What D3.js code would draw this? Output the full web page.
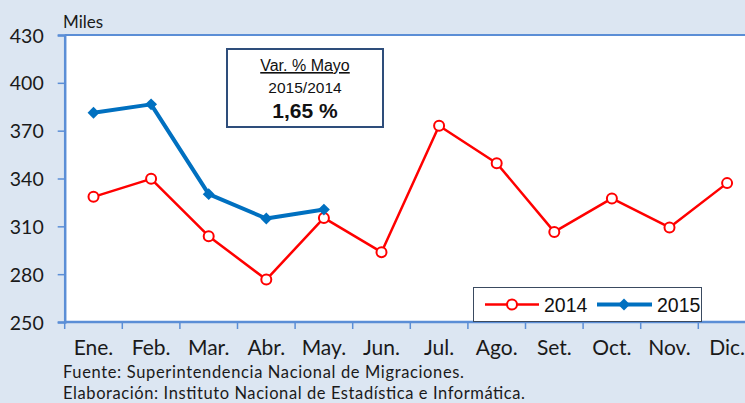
<!DOCTYPE html>
<html>
<head>
<meta charset="utf-8">
<script src="https://cdn.jsdelivr.net/npm/d3@7"></script>
<style>
  html, body { margin: 0; padding: 0; background: #DCE6F2; }
  svg { display: block; }
</style>
</head>
<body>
<svg id="chart" width="745" height="403"></svg>
<script>
// Monthly arrivals (thousands), 2014 vs 2015
const months = ["Ene.", "Feb.", "Mar.", "Abr.", "May.", "Jun.", "Jul.", "Ago.", "Set.", "Oct.", "Nov.", "Dic."];
const values2014 = [328.5, 339.8, 303.8, 276.6, 315.3, 293.8, 373.1, 349.6, 306.5, 327.5, 309.3, 337.1];
const values2015 = [381.2, 386.5, 330.2, 314.9, 320.5];
const yTicks = [250, 280, 310, 340, 370, 400, 430];
const seriesNames = ["2014", "2015"];
const noteTitle = "Var. % Mayo";
const noteSub = "2015/2014";
const noteValue = "1,65 %";
const unitLabel = "Miles";
const sourceLines = [
  "Fuente: Superintendencia Nacional de Migraciones.",
  "Elaboración: Instituto Nacional de Estadística e Informática."
];

const W = 745, H = 403;
const plot = { left: 64.7, top: 35, bottom: 322 };
const step = 57.6;
const red = "#FF0000", blue = "#0070C0", axisBlue = "#5B8ED6";
const sans = "Lato, 'Open Sans', sans-serif";
const arial = "'Liberation Sans', Arial, sans-serif";
const sourceWidths = [401, 462];

const svg = d3.select("#chart");

const x = d3.scaleBand().domain(months).range([plot.left, plot.left + step * months.length]).padding(0);
const y = d3.scaleLinear().domain([250, 430]).range([plot.bottom, plot.top]);
const cx = m => x(m) + x.bandwidth() / 2;

// white plot area
svg.append("rect")
  .attr("x", plot.left).attr("y", plot.top)
  .attr("width", W - plot.left + 20).attr("height", plot.bottom - plot.top)
  .attr("fill", "#FFFFFF");

// top border of plot area
svg.append("line")
  .attr("x1", plot.left).attr("x2", W + 5)
  .attr("y1", plot.top).attr("y2", plot.top)
  .attr("stroke", axisBlue).attr("stroke-width", 2);

// y axis
const yAxis = d3.axisLeft(y).tickValues(yTicks).tickSize(7).tickPadding(14);
const gy = svg.append("g").attr("transform", `translate(${plot.left},0)`).call(yAxis);
gy.select(".domain").attr("stroke", axisBlue).attr("stroke-width", 2.5);
gy.selectAll(".tick line").attr("stroke", axisBlue).attr("stroke-width", 1.5);
gy.selectAll(".tick text")
  .attr("font-family", sans).attr("font-size", 19.5).attr("fill", "#1a1a1a")
  .attr("dy", "0.36em");

// x axis with ticks on band boundaries
const gx = svg.append("g").attr("transform", `translate(0,${plot.bottom})`);
gx.append("line")
  .attr("x1", plot.left).attr("x2", W + 5)
  .attr("y1", 0).attr("y2", 0)
  .attr("stroke", axisBlue).attr("stroke-width", 2.5);
const bounds = months.map(m => x(m)).concat([x(months[months.length - 1]) + x.bandwidth()]);
gx.selectAll(".xtick").data(bounds).join("line")
  .attr("class", "xtick")
  .attr("x1", d => d).attr("x2", d => d)
  .attr("y1", 0).attr("y2", 7)
  .attr("stroke", axisBlue).attr("stroke-width", 1.5);
gx.selectAll(".xlabel").data(months).join("text")
  .attr("class", "xlabel")
  .attr("x", d => cx(d)).attr("y", 33)
  .attr("text-anchor", "middle")
  .attr("font-family", sans).attr("font-size", 21).attr("fill", "#1a1a1a")
  .text(d => d);

// unit label
svg.append("text")
  .attr("x", 63).attr("y", 28)
  .attr("font-family", sans).attr("font-size", 17).attr("fill", "#1a1a1a")
  .text(unitLabel);

// 2014 series
const line = d3.line().x(d => cx(d.m)).y(d => y(d.v));
const d2014 = values2014.map((v, i) => ({ m: months[i], v }));
const d2015 = values2015.map((v, i) => ({ m: months[i], v }));

svg.append("path").datum(d2014)
  .attr("d", line).attr("fill", "none")
  .attr("stroke", red).attr("stroke-width", 2.5).attr("stroke-linejoin", "round");
svg.selectAll(".p2014").data(d2014).join("circle")
  .attr("class", "p2014")
  .attr("cx", d => cx(d.m)).attr("cy", d => y(d.v)).attr("r", 5)
  .attr("fill", "#FFFFFF").attr("stroke", red).attr("stroke-width", 2);

// 2015 series
svg.append("path").datum(d2015)
  .attr("d", line).attr("fill", "none")
  .attr("stroke", blue).attr("stroke-width", 4).attr("stroke-linejoin", "round");
const diamond = d3.symbol().type(d3.symbolDiamond2).size(90);
svg.selectAll(".p2015").data(d2015).join("path")
  .attr("class", "p2015")
  .attr("transform", d => `translate(${cx(d.m)},${y(d.v)})`)
  .attr("d", diamond).attr("fill", blue);

// note box
const note = svg.append("g");
note.append("rect")
  .attr("x", 227).attr("y", 49).attr("width", 156).attr("height", 78)
  .attr("fill", "#FFFFFF").attr("stroke", "#2E4D7B").attr("stroke-width", 2);
note.append("text")
  .attr("x", 305).attr("y", 71).attr("text-anchor", "middle")
  .attr("font-family", arial).attr("font-size", 16).attr("fill", "#111")
  .attr("text-decoration", "underline")
  .text(noteTitle);
note.append("text")
  .attr("x", 305).attr("y", 93).attr("text-anchor", "middle")
  .attr("font-family", arial).attr("font-size", 15.5).attr("fill", "#111")
  .text(noteSub);
note.append("text")
  .attr("x", 305).attr("y", 118).attr("text-anchor", "middle")
  .attr("font-family", arial).attr("font-size", 21).attr("font-weight", "bold").attr("fill", "#111")
  .text(noteValue);

// legend
const legend = svg.append("g");
legend.append("rect")
  .attr("x", 473.5).attr("y", 287.5).attr("width", 228).attr("height", 34)
  .attr("fill", "#FFFFFF").attr("stroke", "#3A4A60").attr("stroke-width", 1);
const ly = 304.5;
legend.append("line").attr("x1", 485).attr("x2", 539).attr("y1", ly).attr("y2", ly)
  .attr("stroke", red).attr("stroke-width", 2.5);
legend.append("circle").attr("cx", 512).attr("cy", ly).attr("r", 5)
  .attr("fill", "#FFFFFF").attr("stroke", red).attr("stroke-width", 2);
legend.append("text").attr("x", 544).attr("y", ly + 7)
  .attr("font-family", arial).attr("font-size", 19.5).attr("fill", "#111").text(seriesNames[0]);
legend.append("line").attr("x1", 597).attr("x2", 652).attr("y1", ly).attr("y2", ly)
  .attr("stroke", blue).attr("stroke-width", 4);
legend.append("path").attr("transform", `translate(624,${ly})`).attr("d", diamond).attr("fill", blue);
legend.append("text").attr("x", 657).attr("y", ly + 7)
  .attr("font-family", arial).attr("font-size", 19.5).attr("fill", "#111").text(seriesNames[1]);

// source notes
svg.selectAll(".src").data(sourceLines).join("text")
  .attr("class", "src")
  .attr("x", 63).attr("y", (d, i) => 378 + i * 21)
  .attr("font-family", sans).attr("font-size", 16.5).attr("fill", "#1a1a1a")
  .attr("textLength", (d, i) => sourceWidths[i])
  .attr("lengthAdjust", "spacing")
  .text(d => d);
</script>
</body>
</html>
